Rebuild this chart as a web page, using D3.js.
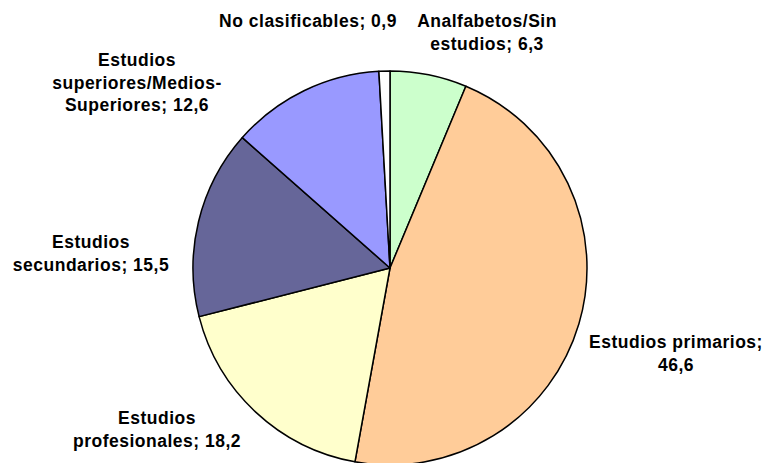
<!DOCTYPE html>
<html>
<head>
<meta charset="utf-8">
<script src="https://cdn.jsdelivr.net/npm/d3@7"></script>
<style>
  body { margin: 0; background: #fff; }
  text { font-family: "Liberation Sans", Arial, sans-serif; font-weight: bold; font-size: 17.5px; letter-spacing: 0.5px; fill: #000; }
</style>
</head>
<body>
<div id="svg-container"></div>
<script>
const categories = [
    "Analfabetos/Sin estudios",
    "Estudios primarios",
    "Estudios profesionales",
    "Estudios secundarios",
    "Estudios superiores/Medios-Superiores",
    "No clasificables"
];
const values = [6.3, 46.6, 18.2, 15.5, 12.6, 0.9];
const valueLabels = ["6,3", "46,6", "18,2", "15,5", "12,6", "0,9"];
const colors = ["#CCFFCC", "#FFCC99", "#FFFFCC", "#666699", "#9999FF", "#FFFFFF"];
// label text split into lines, like the original
const labelLines = [
    ["Analfabetos/Sin", "estudios; 6,3"],
    ["Estudios primarios;", "46,6"],
    ["Estudios", "profesionales; 18,2"],
    ["Estudios", "secundarios; 15,5"],
    ["Estudios", "superiores/Medios-", "Superiores; 12,6"],
    ["No clasificables; 0,9"]
];
// label centre positions (first line centre) in pixels
const labelPos = [[487, 21], [676, 342], [157, 418], [91, 242], [137, 60], [308, 21]];

const width = 770, height = 463;
const cx = 390, cy = 268, radius = 197;
const lineH = 22.5;

const svg = d3.select("#svg-container").append("svg")
    .attr("width", width)
    .attr("height", height);

const pie = d3.pie()
    .sort(null)
    .value(d => d);

const arc = d3.arc()
    .innerRadius(0)
    .outerRadius(radius);

const g = svg.append("g")
    .attr("transform", `translate(${cx},${cy})`);

g.selectAll("path")
    .data(pie(values))
    .join("path")
    .attr("d", arc)
    .attr("fill", (d, i) => colors[i])
    .attr("stroke", "#000")
    .attr("stroke-width", 1.5)
    .attr("stroke-linejoin", "round");

const labels = svg.append("g");
labelLines.forEach((lines, i) => {
    const t = labels.append("text")
        .attr("text-anchor", "middle")
        .attr("x", labelPos[i][0])
        .attr("y", labelPos[i][1]);
    lines.forEach((line, k) => {
        t.append("tspan")
            .attr("x", labelPos[i][0])
            .attr("y", labelPos[i][1] + k * lineH)
            .attr("dy", "0.35em")
            .text(line);
    });
});
</script>
</body>
</html>
